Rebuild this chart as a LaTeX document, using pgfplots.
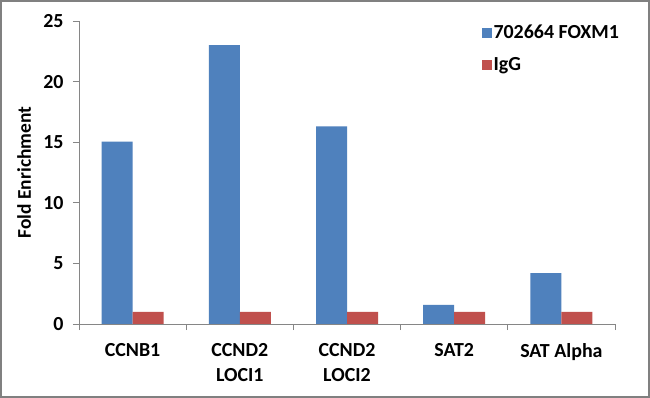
\documentclass[border=0pt]{standalone}
\usepackage{fontspec}
\setmainfont{Carlito}
\usepackage{pgfplots}
\pgfplotsset{compat=1.18}
\definecolor{cblue}{HTML}{4F81BD}
\definecolor{cred}{HTML}{C0504D}
\definecolor{axgray}{HTML}{868686}
\begin{document}
\begin{tikzpicture}
\useasboundingbox (0,0) rectangle (650bp,398bp);
\fill[white] (0,0) rectangle (650bp,398bp);
\draw[gray, line width=2bp] (1bp,1bp) rectangle (649bp,397bp);
\begin{axis}[
  at={(79bp,74bp)}, anchor=south west,
  scale only axis, width=536bp, height=303bp,
  ybar=0pt, bar width=31bp,
  xmin=-0.5, xmax=4.5, ymin=0, ymax=25,
  xtick={0,...,4},
  xticklabels={CCNB1, {CCND2\\LOCI1}, {CCND2\\LOCI2}, SAT2, {SAT Alpha}},
  minor xtick={-0.5,0.5,1.5,2.5,3.5,4.5},
  ytick={0,5,...,25},
  axis x line*=bottom, axis y line*=left,
  axis line style={axgray, line width=0.8bp, -},
  tick align=outside,
  major tick length=6bp, minor tick length=6bp,
  tick style={axgray, line width=0.8bp},
  major x tick style={draw=none},
  /pgf/number format/assume math mode=true,
  tick label style={font=\bfseries\fontsize{20}{25}\selectfont},
  xticklabel style={align=center, yshift=-10bp},
  yticklabel style={xshift=-6bp},
  ylabel={Fold Enrichment},
  ylabel style={at={(axis description cs:-0.1026,0.5)}, anchor=center, font=\bfseries\fontsize{19.5}{23}\selectfont},
  legend style={at={(axis description cs:0.745,1.0)}, anchor=north west, draw=none, fill=none,
    font=\bfseries\fontsize{20}{24}\selectfont, row sep=13bp,
    /tikz/every even column/.append style={column sep=2bp}},
  legend cell align=left,
  legend image code/.code={\fill[#1] (0bp,-5bp) rectangle (10bp,5bp);},
]
\addplot[fill=cblue, draw=none] coordinates {(0,15.05) (1,23.0) (2,16.3) (3,1.57) (4,4.2)};
\addplot[fill=cred, draw=none] coordinates {(0,1) (1,1) (2,1) (3,1) (4,1)};
\legend{702664 FOXM1, IgG}
\end{axis}
\end{tikzpicture}
\end{document}
